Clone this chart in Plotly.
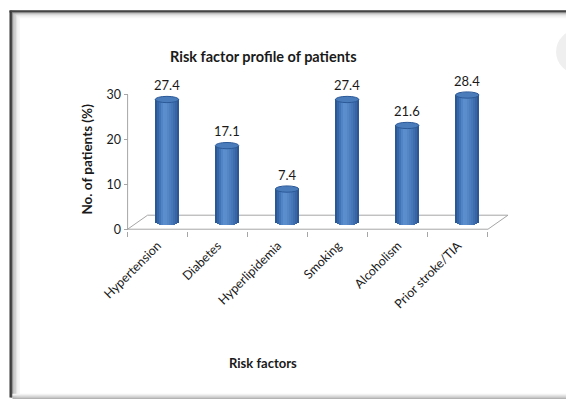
import plotly.graph_objects as go

# ---- data ----
categories = ["Hypertension", "Diabetes", "Hyperlipidemia", "Smoking", "Alcoholism", "Prior stroke/TIA"]
values = [27.4, 17.1, 7.4, 27.4, 21.6, 28.4]
y_tick_values = [0, 10, 20, 30]

# ---- geometry (pixels / axis units) ----
W, H = 566, 399
PX_PER_CAT = 60.0
PX_PER_VAL = 4.467
X_RANGE = [-0.56, 5.9]
Y_RANGE = [-0.4, 36]
X0_PX = 128 + (X_RANGE[0] + 0.5) * PX_PER_CAT
X1_PX = 128 + (X_RANGE[1] + 0.5) * PX_PER_CAT
Y0_PX = 229 - Y_RANGE[0] * PX_PER_VAL
Y1_PX = 229 - Y_RANGE[1] * PX_PER_VAL

DEPTH_X, DEPTH_Y = 0.333, 3.13      # floor depth (back edge offset)
MID_X, MID_Y = 0.155, 1.567         # cylinders stand at mid depth
CYL_W = 0.39                        # cylinder diameter in category units
ELL_H = 0.7                         # ellipse half-height in value units

LINE_GREY = "#A6A6A6"
TEXT = "#1a1a1a"
FONT = "Lato"


def px_x(px):
    return (px - X0_PX) / (X1_PX - X0_PX)


def px_y(py):
    return (Y0_PX - py) / (Y0_PX - Y1_PX)


# horizontal shading profile of a cylinder, left to right
strip_colors = ["#2B5794", "#3566A6", "#4374B6", "#5084C5", "#5A8ECD", "#5A8DCC",
                "#5486C6", "#4D7FBF", "#4677B8", "#3F6EAF", "#3664A4", "#2C5793"]
N = len(strip_colors)

fig = go.Figure()

for k, col in enumerate(strip_colors):
    t = ((k + 0.5) / N) * 2 - 1
    drop = ELL_H * (1 - t * t) ** 0.5
    fig.add_trace(go.Bar(
        x=categories,
        y=[v + drop for v in values],
        base=MID_Y - drop,
        width=CYL_W / N + 0.006,
        offset=-CYL_W / 2 + MID_X + k * CYL_W / N - 0.003,
        marker=dict(color=col, line=dict(width=0)),
        showlegend=False,
        hoverinfo="skip",
    ))

shapes = []

# floor outline
fl = dict(type="line", xref="x", yref="y", line=dict(color=LINE_GREY, width=1), layer="below")
shapes.append(dict(fl, x0=-0.5, y0=0, x1=5.5, y1=0))
shapes.append(dict(fl, x0=-0.5, y0=0, x1=-0.5 + DEPTH_X, y1=DEPTH_Y))
shapes.append(dict(fl, x0=-0.5 + DEPTH_X, y0=DEPTH_Y, x1=5.5 + DEPTH_X, y1=DEPTH_Y))
shapes.append(dict(fl, x0=5.5, y0=0, x1=5.5 + DEPTH_X, y1=DEPTH_Y))
# value axis line
shapes.append(dict(fl, x0=-0.5, y0=0, x1=-0.5, y1=y_tick_values[-1]))

# cylinder tops
for i, v in enumerate(values):
    shapes.append(dict(
        type="circle", xref="x", yref="y", layer="above",
        x0=i + MID_X - CYL_W / 2, x1=i + MID_X + CYL_W / 2,
        y0=MID_Y + v - ELL_H, y1=MID_Y + v + ELL_H,
        fillcolor="#4A7BBB", line=dict(color="#2C5A98", width=1),
    ))

# outer frame with soft inner shadow
frame_grey = ["#3a3a3a", "#4a4a4a", "#8a8a8a", "#b5b5b5", "#d2d2d2", "#e4e4e4", "#efefef", "#f6f6f6"]
for j, g in enumerate(frame_grey):
    w = 2.2 if j == 0 else 1.3
    xl = 10 + j * 1.3
    shapes.append(dict(type="rect", xref="paper", yref="paper", layer="below",
                       x0=px_x(xl), x1=px_x(xl + w), y0=px_y(397), y1=px_y(11),
                       fillcolor=g, line=dict(width=0)))
for j, g in enumerate(frame_grey):
    w = 2.2 if j == 0 else 1.0
    yt = 10.5 + j * 1.0
    shapes.append(dict(type="rect", xref="paper", yref="paper", layer="below",
                       x0=px_x(10 + j * 1.3), x1=px_x(566), y0=px_y(yt + w), y1=px_y(yt),
                       fillcolor=g, line=dict(width=0)))
bottom_grey = ["#9a9a9a", "#c4c4c4", "#e4e4e4", "#f2f2f2"]
for j, g in enumerate(bottom_grey):
    yb = 398 - j * 1.2
    shapes.append(dict(type="rect", xref="paper", yref="paper", layer="below",
                       x0=px_x(13), x1=px_x(566), y0=px_y(yb), y1=px_y(yb - 1.2),
                       fillcolor=g, line=dict(width=0)))
# faint disc at the right edge
shapes.append(dict(type="circle", xref="paper", yref="paper", layer="below",
                   x0=px_x(556), x1=px_x(600), y0=px_y(74), y1=px_y(30),
                   fillcolor="#efefef", line=dict(width=0)))

annotations = []
# value labels above each cylinder
for i, v in enumerate(values):
    annotations.append(dict(
        x=i + MID_X, y=MID_Y + v + ELL_H, xref="x", yref="y",
        text=f"{v:.1f}", showarrow=False, yanchor="bottom", yshift=1,
        font=dict(family=FONT, size=13, color=TEXT),
    ))

annotations.append(dict(
    x=px_x(264), y=px_y(57), xref="paper", yref="paper",
    text="<b>Risk factor profile of patients</b>", showarrow=False,
    xanchor="center", yanchor="middle",
    font=dict(family=FONT, size=14.5, color=TEXT),
))
annotations.append(dict(
    x=px_x(263), y=px_y(362), xref="paper", yref="paper",
    text="<b>Risk factors</b>", showarrow=False,
    xanchor="center", yanchor="middle",
    font=dict(family=FONT, size=13, color=TEXT),
))
annotations.append(dict(
    x=px_x(87), y=px_y(159), xref="paper", yref="paper",
    text="<b>No. of patients (%)</b>", showarrow=False, textangle=-90,
    xanchor="center", yanchor="middle",
    font=dict(family=FONT, size=13.5, color=TEXT),
))

fig.update_layout(
    width=W, height=H,
    margin=dict(l=X0_PX, r=W - X1_PX, t=Y1_PX, b=H - Y0_PX, pad=0),
    paper_bgcolor="white", plot_bgcolor="rgba(0,0,0,0)",
    barmode="overlay", bargap=0,
    shapes=shapes, annotations=annotations,
    xaxis=dict(
        type="category", categoryorder="array", categoryarray=categories,
        range=X_RANGE, tickson="boundaries", ticks="outside", ticklen=5,
        tickcolor=LINE_GREY, tickangle=-45, ticklabelstandoff=4,
        showline=False, showgrid=False,
        zeroline=False, automargin=False, fixedrange=True,
        tickfont=dict(family=FONT, size=12.5, color=TEXT),
    ),
    yaxis=dict(
        range=Y_RANGE, tickmode="array", tickvals=y_tick_values,
        ticks="outside", ticklen=4, tickcolor=LINE_GREY,
        anchor="free", position=px_x(128),
        showline=False, showgrid=False, zeroline=False, automargin=False,
        tickfont=dict(family=FONT, size=12.5, color=TEXT),
    ),
)

fig.write_html("out.html")
